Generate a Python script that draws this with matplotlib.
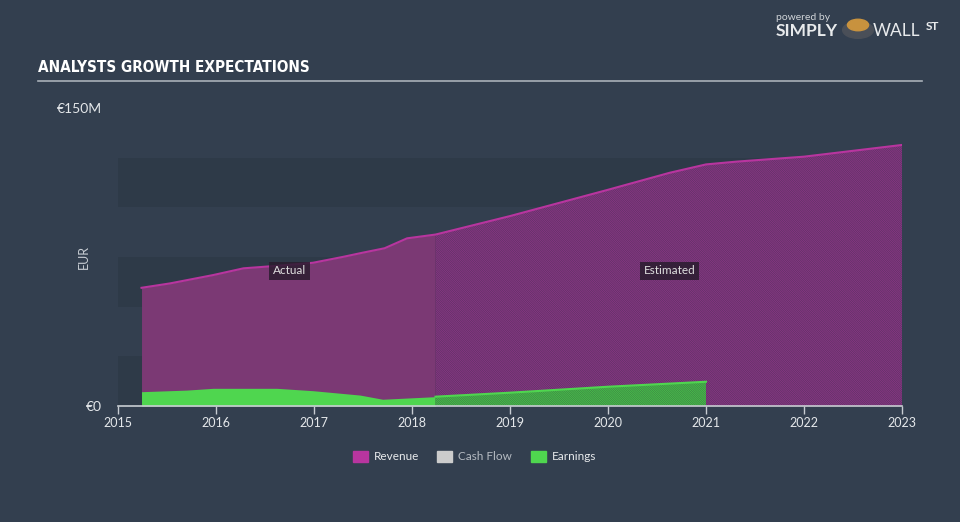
import matplotlib
matplotlib.use("Agg")
import matplotlib.pyplot as plt
from matplotlib.patches import Rectangle, Circle

# revenue, EUR millions
rev_years = [2015.24, 2015.53, 2015.97, 2016.28, 2016.58, 2016.99, 2017.30,
             2017.50, 2017.72, 2017.95, 2018.24]
rev_values = [59.5, 61.7, 65.9, 69.3, 70.4, 72.1, 75.1, 77.2, 79.4, 84.4, 86.3]
rev_est_years = [2018.24, 2019.0, 2019.99, 2020.63, 2021.0, 2021.31, 2022.0, 2023.0]
rev_est_values = [86.3, 95.6, 108.7, 117.4, 121.6, 123.0, 125.5, 131.4]

# earnings, EUR millions
earn_years = [2015.24, 2015.70, 2015.97, 2016.62, 2016.99, 2017.47, 2017.70, 2018.24]
earn_values = [7.2, 8.0, 8.9, 8.9, 7.7, 5.5, 3.4, 4.7]
earn_est_years = [2018.24, 2019.0, 2020.0, 2021.0]
earn_est_values = [4.7, 6.7, 9.7, 12.2]

year_ticks = [2015, 2016, 2017, 2018, 2019, 2020, 2021, 2022, 2023]
band_edges = [0, 25, 50, 75, 100, 125]

BG = "#333f4f"
BAND = "#2e3a48"
REV_LINE = "#b8359f"
REV_FILL = "#7b3974"
EARN = "#4fd64f"

plt.rcParams["font.family"] = ["Lato", "DejaVu Sans"]
plt.rcParams["hatch.linewidth"] = 0.7

fig = plt.figure(figsize=(9.6, 5.22), dpi=100, facecolor=BG)
ax = fig.add_axes([118 / 960, 1 - 406 / 522, 784 / 960, 298 / 522])
ax.set_facecolor(BG)
ax.set_xlim(2015, 2023)
ax.set_ylim(0, 150)

# alternating horizontal bands
for i in range(0, len(band_edges) - 1, 2):
    ax.axhspan(band_edges[i], band_edges[i + 1], color=BAND, zorder=0, lw=0)

# revenue
ax.fill_between(rev_years, rev_values, color=REV_FILL, lw=0, zorder=1)
plt.rcParams["hatch.color"] = "#8a3785"
ax.fill_between(rev_est_years, rev_est_values, facecolor="#3b2d4a",
                hatch="\\" * 18, lw=0, zorder=1)
ax.plot(rev_years + rev_est_years, rev_values + rev_est_values,
        color=REV_LINE, lw=1.5, zorder=3)

# earnings
ax.fill_between(earn_years, earn_values, color=EARN, lw=0, zorder=2)
plt.rcParams["hatch.color"] = "#48c24a"
ax.fill_between(earn_est_years, earn_est_values, facecolor="#354f42",
                hatch="\\" * 18, lw=0, zorder=2)
ax.plot(earn_est_years, earn_est_values, color=EARN, lw=1.5, zorder=3)

for s in ["top", "right", "left"]:
    ax.spines[s].set_visible(False)
ax.spines["bottom"].set_color("#c8cdd3")
ax.spines["bottom"].set_linewidth(1.2)
ax.set_xticks(year_ticks)
ax.set_xticklabels([str(y) for y in year_ticks])
ax.tick_params(axis="x", colors="#c8cdd3", length=6, width=1, labelsize=9,
               labelcolor="#e4e7ea", pad=2)
ax.set_yticks([0, 150])
ax.set_yticklabels(["€0", "€150M"])
ax.tick_params(axis="y", length=0, labelsize=10, labelcolor="#e4e7ea", pad=11.5)
ax.set_ylabel("EUR", color="#c8cdd3", fontsize=9)
ax.yaxis.set_label_coords(-0.036, 0.5)

box = dict(boxstyle="square,pad=0.3", fc="#2a1d2f", ec="none", alpha=0.85)
ax.text(2016.75, 68, "Actual", color="#e0e0e0", fontsize=8.5,
        ha="center", va="center", bbox=box, zorder=5)
ax.text(2020.63, 68, "Estimated", color="#e0e0e0", fontsize=8.5,
        ha="center", va="center", bbox=box, zorder=5)

# title
fig.text(38 / 960, 1 - 68 / 522, "ANALYSTS GROWTH EXPECTATIONS",
         family="DejaVu Sans", fontstretch="condensed", weight="bold",
         color="white", fontsize=11, va="center")
fig.add_artist(plt.Line2D([38 / 960, 922 / 960], [1 - 81 / 522, 1 - 81 / 522],
                          color="#a9b0b8", lw=1.2))

# logo
fig.text(776 / 960, 1 - 17 / 522, "powered by", color="#d0d4d8", fontsize=7.5,
         va="center")
fig.text(776 / 960, 1 - 31 / 522, "SIMPLY", color="#e8eaec", fontsize=12.5,
         weight="bold", va="center")
fig.add_artist(Circle((858 / 960, 1 - 30 / 522), 0.016, transform=fig.transFigure,
                      color="#4a4f58"))
fig.add_artist(Circle((858 / 960, 1 - 25 / 522), 0.011, transform=fig.transFigure,
                      color="#c8923e"))
fig.text(873 / 960, 1 - 31 / 522, "WALL", color="#e8eaec", fontsize=12.5,
         va="center")
fig.text(926 / 960, 1 - 27 / 522, "ST", color="#e8eaec", fontsize=8.5,
         weight="bold", va="center")

# legend
items = [("Revenue", REV_LINE, "#e8eaec"), ("Cash Flow", "#cccccc", "#b5bbc2"),
         ("Earnings", EARN, "#e8eaec")]
xs = [353, 437, 531]
for (label, c, tc), x in zip(items, xs):
    fig.add_artist(Rectangle((x / 960, 1 - 462 / 522), 15 / 960, 11 / 522,
                             transform=fig.transFigure, color=c))
    fig.text((x + 21) / 960, 1 - 456 / 522, label, color=tc, fontsize=8.5,
             va="center")

fig.savefig("out.png", dpi=100, facecolor=BG)
